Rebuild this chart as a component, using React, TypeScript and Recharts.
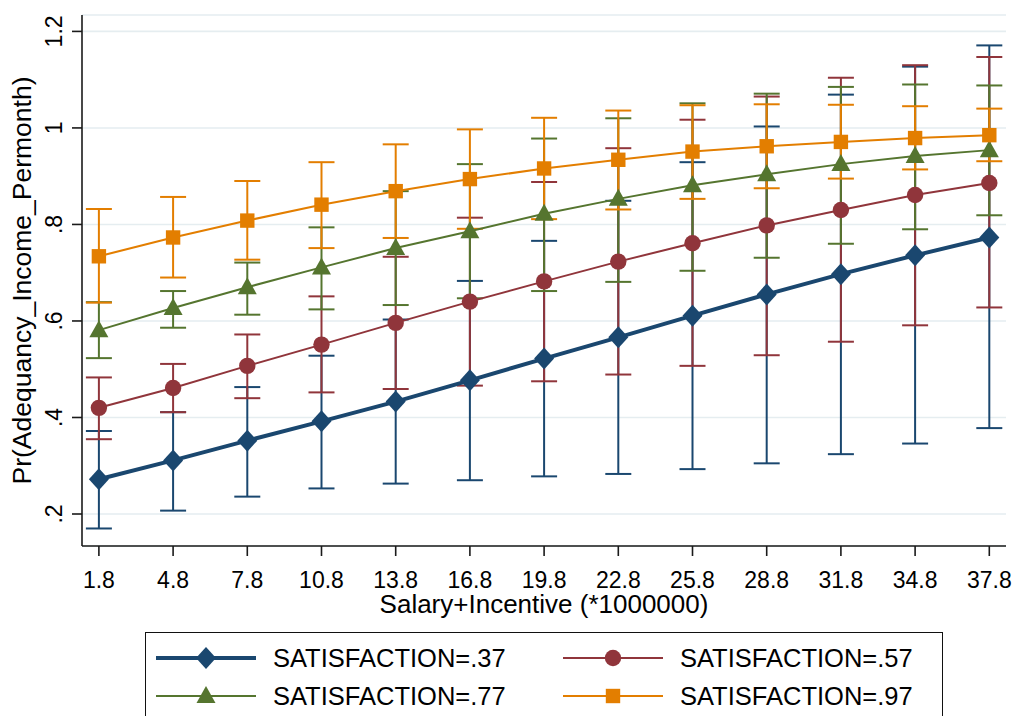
import { ComposedChart, Line, XAxis, YAxis, CartesianGrid, ErrorBar, Legend } from 'recharts'

// x categories: Salary+Incentive (*1000000)
const salary = [1.8, 4.8, 7.8, 10.8, 13.8, 16.8, 19.8, 22.8, 25.8, 28.8, 31.8, 34.8, 37.8]
const xTickLabels = ['1.8', '4.8', '7.8', '10.8', '13.8', '16.8', '19.8', '22.8', '25.8', '28.8', '31.8', '34.8', '37.8']

const yTicks = [0.2, 0.4, 0.6, 0.8, 1, 1.2]
const yTickLabels = ['.2', '.4', '.6', '.8', '1', '1.2']

// SATISFACTION=.37
const sat37 = [0.272, 0.311, 0.352, 0.392, 0.433, 0.477, 0.522, 0.566, 0.611, 0.655, 0.697, 0.736, 0.773]
const sat37Lo = [0.17, 0.207, 0.236, 0.253, 0.263, 0.27, 0.278, 0.283, 0.293, 0.305, 0.324, 0.346, 0.378]
const sat37Hi = [0.372, 0.411, 0.463, 0.528, 0.603, 0.683, 0.766, 0.849, 0.929, 1.003, 1.069, 1.127, 1.171]

// SATISFACTION=.57
const sat57 = [0.42, 0.461, 0.507, 0.551, 0.596, 0.64, 0.682, 0.723, 0.761, 0.798, 0.83, 0.861, 0.886]
const sat57Lo = [0.355, 0.411, 0.44, 0.452, 0.459, 0.466, 0.475, 0.489, 0.507, 0.529, 0.557, 0.591, 0.628]
const sat57Hi = [0.483, 0.511, 0.572, 0.651, 0.733, 0.814, 0.888, 0.958, 1.017, 1.065, 1.104, 1.13, 1.147]

// SATISFACTION=.77
const sat77 = [0.581, 0.627, 0.67, 0.711, 0.751, 0.786, 0.822, 0.853, 0.881, 0.904, 0.925, 0.942, 0.954]
const sat77Lo = [0.523, 0.586, 0.613, 0.624, 0.633, 0.647, 0.662, 0.681, 0.704, 0.731, 0.76, 0.79, 0.819]
const sat77Hi = [0.639, 0.662, 0.721, 0.794, 0.869, 0.925, 0.978, 1.02, 1.051, 1.071, 1.085, 1.09, 1.088]

// SATISFACTION=.97
const sat97 = [0.734, 0.773, 0.808, 0.841, 0.869, 0.894, 0.916, 0.934, 0.951, 0.962, 0.971, 0.979, 0.985]
const sat97Lo = [0.638, 0.69, 0.727, 0.751, 0.772, 0.791, 0.811, 0.831, 0.853, 0.875, 0.895, 0.914, 0.931]
const sat97Hi = [0.832, 0.857, 0.89, 0.929, 0.966, 0.997, 1.021, 1.036, 1.047, 1.049, 1.048, 1.045, 1.04]

const FONT = '"Liberation Sans", Arial, Helvetica, sans-serif'

type MarkerKind = 'diamond' | 'circle' | 'triangle' | 'square'

const series = [
  { key: 's37', name: 'SATISFACTION=.37', color: '#1a476f', width: 4, marker: 'diamond' as MarkerKind, m: sat37, lo: sat37Lo, hi: sat37Hi },
  { key: 's57', name: 'SATISFACTION=.57', color: '#90353b', width: 2, marker: 'circle' as MarkerKind, m: sat57, lo: sat57Lo, hi: sat57Hi },
  { key: 's77', name: 'SATISFACTION=.77', color: '#55752f', width: 2, marker: 'triangle' as MarkerKind, m: sat77, lo: sat77Lo, hi: sat77Hi },
  { key: 's97', name: 'SATISFACTION=.97', color: '#e37e00', width: 2, marker: 'square' as MarkerKind, m: sat97, lo: sat97Lo, hi: sat97Hi },
]

const data = salary.map((x, i) => {
  const row: Record<string, number | number[]> = { x }
  series.forEach(s => {
    row[s.key] = s.m[i]
    row[s.key + 'Err'] = [s.m[i] - s.lo[i], s.hi[i] - s.m[i]]
  })
  return row
})

function Marker({ kind, cx, cy, color }: { kind: MarkerKind; cx: number; cy: number; color: string }) {
  if (kind === 'diamond') {
    return <polygon points={`${cx},${cy - 11} ${cx + 10},${cy} ${cx},${cy + 11} ${cx - 10},${cy}`} fill={color} />
  }
  if (kind === 'circle') return <circle cx={cx} cy={cy} r={8.2} fill={color} />
  if (kind === 'triangle') {
    return <polygon points={`${cx},${cy - 10} ${cx + 9.5},${cy + 7} ${cx - 9.5},${cy + 7}`} fill={color} />
  }
  return <rect x={cx - 7.2} y={cy - 7.2} width={14.4} height={14.4} fill={color} />
}

const XTick = (props: any) => {
  const { x, y, index } = props
  return (
    <text x={x} y={y + 32} textAnchor="middle" fontSize={23} fill="#000" fontFamily={FONT}>
      {xTickLabels[index]}
    </text>
  )
}

const YTick = (props: any) => {
  const { x, y, index } = props
  const bx = x - 10
  return (
    <text x={bx} y={y} transform={`rotate(-90, ${bx}, ${y})`} textAnchor="middle" fontSize={23} fill="#000" fontFamily={FONT}>
      {yTickLabels[index]}
    </text>
  )
}

const YTitle = (props: any) => {
  const vb = props.viewBox || { y: 15, height: 531 }
  const cx = 31
  const cy = vb.y + vb.height / 2
  return (
    <text x={cx} y={cy} transform={`rotate(-90, ${cx}, ${cy})`} textAnchor="middle" fontSize={26.5} fill="#000" fontFamily={FONT}>
      Pr(Adequancy_Income_Permonth)
    </text>
  )
}

const LegendBox = (props: any) => {
  const items = (props.payload || []).filter((p: any) => p.type !== 'none')
  return (
    <div style={{ position: 'relative', width: 798, height: 100, border: '1.5px solid #111', boxSizing: 'border-box', background: '#fff', fontFamily: FONT }}>
      {items.map((p: any, i: number) => {
        const s = series.find(d => d.key === p.dataKey)!
        const col = i % 2
        const row = Math.floor(i / 2)
        const left = col === 0 ? 10 : 417
        const top = row === 0 ? 25 : 63
        return (
          <div key={s.key} style={{ position: 'absolute', left, top: top - 15, height: 30, display: 'flex', alignItems: 'center' }}>
            <svg width={100} height={30} style={{ display: 'block' }}>
              <line x1={0} y1={15} x2={100} y2={15} stroke={s.color} strokeWidth={s.width} />
              <Marker kind={s.marker} cx={50} cy={15} color={s.color} />
            </svg>
            <span style={{ marginLeft: 17, fontSize: 25.5, color: '#000', whiteSpace: 'nowrap', lineHeight: '30px' }}>{s.name}</span>
          </div>
        )
      })}
    </div>
  )
}

export default function App() {
  return (
    <div style={{ position: 'fixed', left: 0, top: 0, width: 1016, height: 716, overflow: 'hidden', background: '#fff', fontFamily: FONT }}>
      <ComposedChart width={1016} height={716} data={data} margin={{ top: 15, right: 10, left: 0, bottom: 90 }} style={{ fontFamily: FONT }}>
        <CartesianGrid vertical={false} stroke="#e5edf0" strokeWidth={1.6} />
        <XAxis
          dataKey="x"
          type="number"
          domain={[1.117, 38.475]}
          ticks={salary}
          interval={0}
          height={80}
          tickSize={10}
          tickMargin={0}
          axisLine={{ stroke: '#1a1a1a', strokeWidth: 1.6 }}
          tickLine={{ stroke: '#1a1a1a', strokeWidth: 1.6 }}
          tick={<XTick />}
          label={{ value: 'Salary+Incentive (*1000000)', position: 'insideBottom', offset: 13, fill: '#000', fontSize: 26, fontFamily: FONT }}
        />
        <YAxis
          type="number"
          domain={[0.1337, 1.234]}
          ticks={yTicks}
          interval={0}
          width={82}
          tickSize={10}
          tickMargin={0}
          allowDataOverflow
          axisLine={{ stroke: '#1a1a1a', strokeWidth: 1.6 }}
          tickLine={{ stroke: '#1a1a1a', strokeWidth: 1.6 }}
          tick={<YTick />}
          label={{ content: <YTitle /> }}
        />

        {/* confidence intervals first, under every line */}
        {series.map(s => (
          <Line
            key={s.key + '-ci'}
            dataKey={s.key}
            stroke="none"
            dot={false}
            activeDot={false}
            legendType="none"
            isAnimationActive={false}
          >
            <ErrorBar dataKey={s.key + 'Err'} direction="y" width={13} stroke={s.color} strokeWidth={2} isAnimationActive={false} />
          </Line>
        ))}

        {series.map(s => (
          <Line
            key={s.key}
            dataKey={s.key}
            name={s.name}
            stroke={s.color}
            strokeWidth={s.width}
            type="linear"
            isAnimationActive={false}
            activeDot={false}
            dot={(p: any) => <Marker key={`${s.key}-${p.index}`} kind={s.marker} cx={p.cx} cy={p.cy} color={s.color} />}
          />
        ))}

        <Legend
          layout="horizontal"
          verticalAlign="middle"
          align="center"
          wrapperStyle={{ position: 'absolute', left: 145, top: 632, width: 798, height: 100 }}
          content={<LegendBox />}
        />
      </ComposedChart>
    </div>
  )
}
